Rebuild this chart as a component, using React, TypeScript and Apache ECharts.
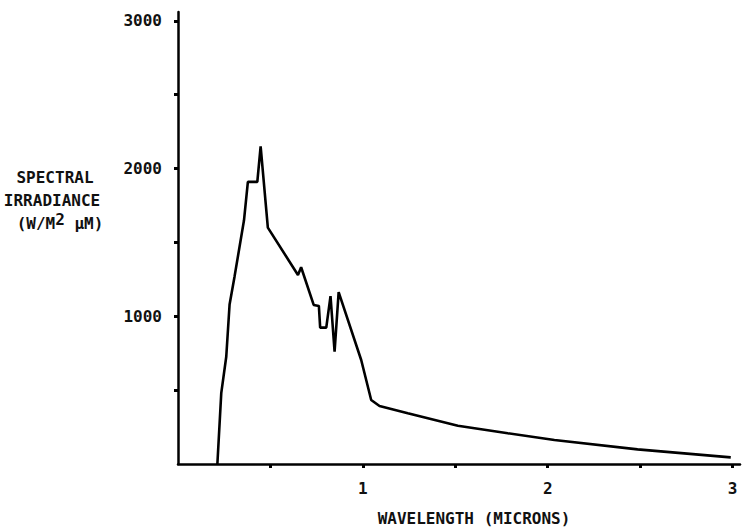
import { useEffect, useRef } from "react";
import * as echarts from "echarts";

const wavelength = [0.213, 0.234, 0.261, 0.279, 0.306, 0.357, 0.378, 0.429, 0.447, 0.486, 0.649, 0.666, 0.734, 0.762, 0.769, 0.802, 0.825, 0.847, 0.869, 0.991, 1.045, 1.09, 1.243, 1.514, 1.784, 2.036, 2.486, 2.99];
const irradiance = [0, 480, 726, 1080, 1270, 1650, 1910, 1910, 2150, 1600, 1280, 1332, 1077, 1070, 923, 923, 1137, 760, 1163, 704, 433, 393, 343, 259, 208, 162, 99, 45];
const xTickValues = [0.5, 1, 1.5, 2, 2.5, 3];
const xLabelValues = [1, 2, 3];
const yTickValues = [500, 1000, 1500, 2000, 2500, 3000];
const yLabelValues = [1000, 2000, 3000];
const xTitle = "WAVELENGTH (MICRONS)";
const yTitleLines = ["SPECTRAL", "IRRADIANCE"];

export default function App() {
  const ref = useRef<HTMLDivElement>(null);
  useEffect(() => {
    const chart = echarts.init(ref.current!, null, { renderer: "svg" });
    const font = "'DejaVu Sans Mono', monospace";
    const labelStyle = { color: "#111", fontFamily: font, fontWeight: "bold" as const, fontSize: 16 };
    chart.setOption({
      animation: false,
      backgroundColor: "#ffffff",
      grid: { left: 178, right: 4, top: 12, bottom: 68 },
      xAxis: {
        type: "value",
        min: 0,
        max: 3.04,
        axisLine: { lineStyle: { color: "#000", width: 2.5 } },
        axisTick: { customValues: xTickValues, length: 4, lineStyle: { color: "#000", width: 3 } },
        axisLabel: { customValues: xLabelValues, margin: 16, formatter: (v: number) => String(v), ...labelStyle },
        splitLine: { show: false },
      },
      yAxis: {
        type: "value",
        min: 0,
        max: 3060,
        axisLine: { show: true, lineStyle: { color: "#000", width: 2.5 } },
        axisTick: { show: true, customValues: yTickValues, length: 4, lineStyle: { color: "#000", width: 3 } },
        axisLabel: { customValues: yLabelValues, margin: 16, formatter: (v: number) => String(v), ...labelStyle },
        splitLine: { show: false },
      },
      graphic: [
        { type: "text", x: 474, y: 518, style: { text: xTitle, ...labelStyle, fill: "#111", textAlign: "center", textVerticalAlign: "middle" } },
        { type: "text", x: 55, y: 177, style: { text: yTitleLines[0], ...labelStyle, fill: "#111", textAlign: "center", textVerticalAlign: "middle" } },
        { type: "text", x: 52, y: 200, style: { text: yTitleLines[1], ...labelStyle, fill: "#111", textAlign: "center", textVerticalAlign: "middle" } },
        {
          type: "text",
          x: 60,
          y: 223,
          style: {
            text: "(W/M{s|2} \u00b5M)",
            ...labelStyle,
            fill: "#111",
            textAlign: "center",
            textVerticalAlign: "middle",
            rich: { s: { fontFamily: font, fontWeight: "bold", fontSize: 16, fill: "#111", padding: [0, 0, 7, 0] } },
          },
        },
      ],
      series: [
        {
          type: "line",
          data: wavelength.map((w, i) => [w, irradiance[i]]),
          showSymbol: false,
          lineStyle: { color: "#000", width: 2.6 },
        },
      ],
    });
    return () => chart.dispose();
  }, []);
  return <div ref={ref} style={{ position: "fixed", left: 0, top: 0, width: 744, height: 532 }} />;
}
